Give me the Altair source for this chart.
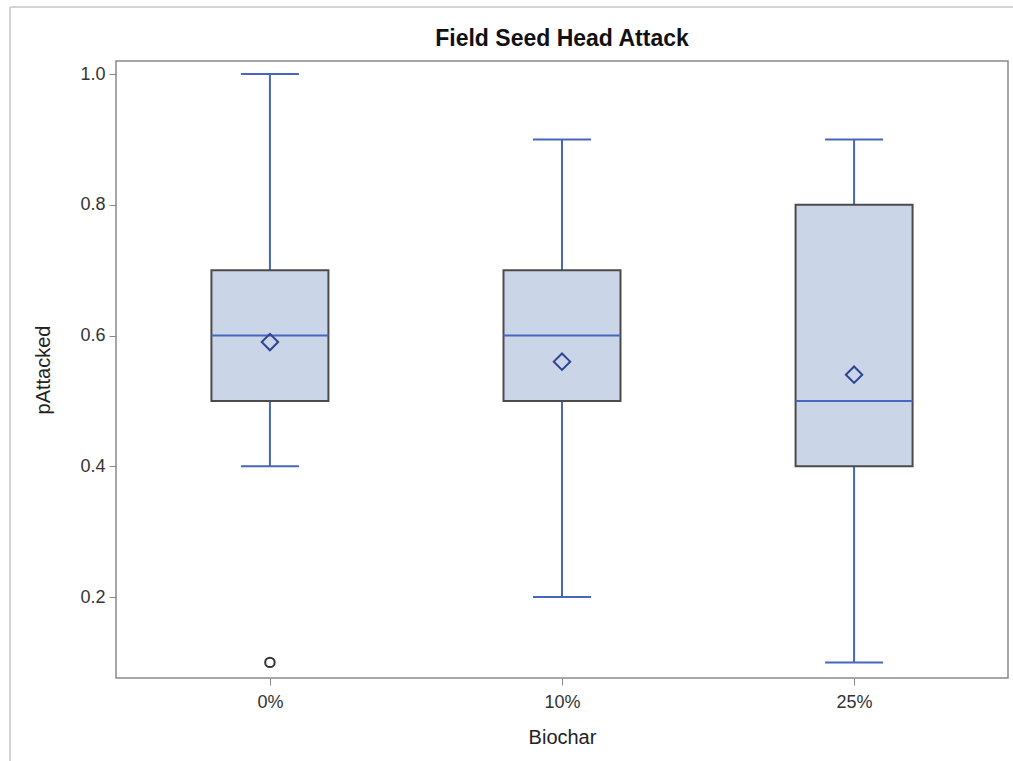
import altair as alt
import pandas as pd

# Box-plot summaries of the proportion of seed heads attacked, per biochar rate
categories = ["0%", "10%", "25%"]
whisker_low = [0.4, 0.2, 0.1]
q1 = [0.5, 0.5, 0.4]
median = [0.6, 0.6, 0.5]
q3 = [0.7, 0.7, 0.8]
whisker_high = [1.0, 0.9, 0.9]
means = [0.59, 0.56, 0.54]

outlier_cat = ["0%"]
outlier_val = [0.1]

y_ticks = [0.2, 0.4, 0.6, 0.8, 1.0]

FONT = "Liberation Sans"
BOX_FILL = "#cad5e7"
BOX_EDGE = "#4b4b4b"
BLUE = "#4766bd"
MEAN_BLUE = "#2d4494"

summary = pd.DataFrame({
    "Biochar": categories,
    "lo": whisker_low,
    "q1": q1,
    "med": median,
    "q3": q3,
    "hi": whisker_high,
    "mean": means,
})
outliers = pd.DataFrame({"Biochar": outlier_cat, "pAttacked": outlier_val})

x_enc = alt.X(
    "Biochar:N",
    sort=categories,
    scale=alt.Scale(type="point", padding=0.527),
    axis=alt.Axis(
        title="Biochar",
        labelAngle=0,
        labelFontSize=18,
        labelColor="#333333",
        labelPadding=8,
        tickSize=7,
        tickColor="#8a8a8a",
        domain=False,
        titleFontSize=20,
        titleFontWeight="normal",
        titleColor="#222222",
        titlePadding=16,
    ),
)
y_scale = alt.Scale(domain=[0.0761, 1.0199], nice=False, zero=False)
y_axis = alt.Axis(
    title="pAttacked",
    values=y_ticks,
    format=".1f",
    grid=False,
    domain=False,
    labelFontSize=18,
    labelColor="#333333",
    labelPadding=4,
    tickSize=7,
    tickColor="#8a8a8a",
    titleFontSize=20,
    titleFontWeight="normal",
    titleColor="#222222",
    titlePadding=26,
)

base = alt.Chart(summary)

whiskers = base.mark_rule(color=BLUE, strokeWidth=2).encode(
    x=x_enc,
    y=alt.Y("lo:Q", scale=y_scale, axis=y_axis),
    y2="hi:Q",
)

boxes = base.mark_bar(
    size=117, fill=BOX_FILL, stroke=BOX_EDGE, strokeWidth=2
).encode(x=x_enc, y=alt.Y("q1:Q", scale=y_scale), y2="q3:Q")

medians = base.mark_tick(size=117, thickness=2, color=BLUE, opacity=1).encode(
    x=x_enc, y=alt.Y("med:Q", scale=y_scale)
)

cap_lo = base.mark_tick(size=58, thickness=2, color=BLUE, opacity=1).encode(
    x=x_enc, y=alt.Y("lo:Q", scale=y_scale)
)
cap_hi = base.mark_tick(size=58, thickness=2, color=BLUE, opacity=1).encode(
    x=x_enc, y=alt.Y("hi:Q", scale=y_scale)
)

mean_pts = base.mark_point(
    shape="diamond", size=270, filled=False, color=MEAN_BLUE, strokeWidth=2, opacity=1
).encode(x=x_enc, y=alt.Y("mean:Q", scale=y_scale))

outlier_pts = alt.Chart(outliers).mark_point(
    shape="circle", size=90, filled=False, color="#333333", strokeWidth=2, opacity=1
).encode(x=x_enc, y=alt.Y("pAttacked:Q", scale=y_scale))

# light border framing the whole graphic (top and left edges)
border_top = alt.Chart(pd.DataFrame({"k": [0]})).mark_rule(
    color="#d4d4d4", strokeWidth=2
).encode(x=alt.value(-106), x2=alt.value(900), y=alt.value(-54))
border_left = alt.Chart(pd.DataFrame({"k": [0]})).mark_rule(
    color="#d4d4d4", strokeWidth=2
).encode(x=alt.value(-106), y=alt.value(-54), y2=alt.value(705))

chart = (
    alt.layer(
        border_top, border_left,
        whiskers, boxes, medians, cap_lo, cap_hi, mean_pts, outlier_pts,
    )
    .properties(
        width=892,
        height=617,
        title=alt.TitleParams(
            "Field Seed Head Attack",
            fontSize=23,
            fontWeight="bold",
            font=FONT,
            color="#111111",
            anchor="middle",
            frame="group",
            offset=0,
            dy=45,
        ),
        padding={"left": 116, "top": 61, "right": 5, "bottom": 83},
        autosize=alt.AutoSizeParams(type="none"),
        background="white",
    )
    .configure_view(stroke="#8a8a8a", strokeWidth=1.5)
    .configure_axis(labelFont=FONT, titleFont=FONT)
)

chart.save("out.html", embed_options={"renderer": "svg", "actions": False})
